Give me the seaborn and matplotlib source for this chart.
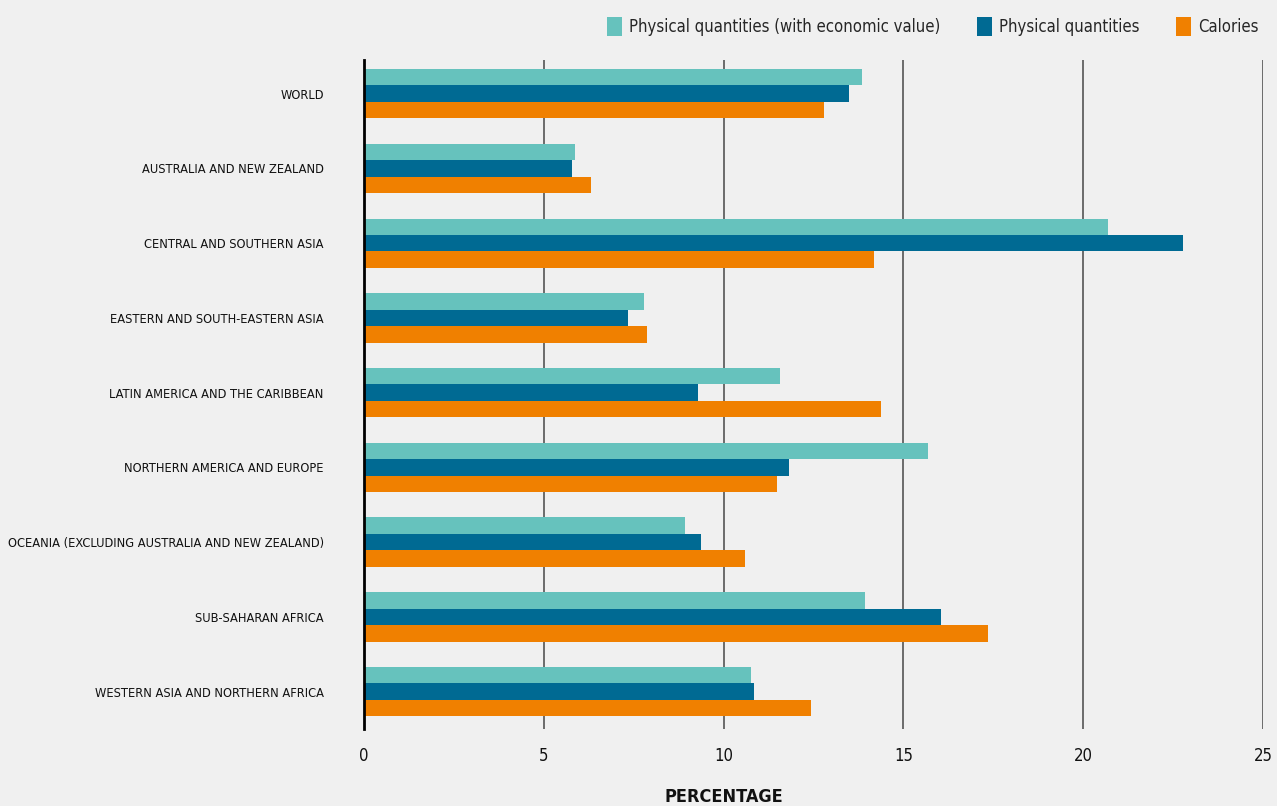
import numpy as np
import pandas as pd
import seaborn as sns
import matplotlib.pyplot as plt

# ----------------------------
# Data
# ----------------------------
regions = [
    "WORLD",
    "AUSTRALIA AND NEW ZEALAND",
    "CENTRAL AND SOUTHERN ASIA",
    "EASTERN AND SOUTH-EASTERN ASIA",
    "LATIN AMERICA AND THE CARIBBEAN",
    "NORTHERN AMERICA AND EUROPE",
    "OCEANIA (EXCLUDING AUSTRALIA AND NEW ZEALAND)",
    "SUB-SAHARAN AFRICA",
    "WESTERN ASIA AND NORTHERN AFRICA",
]
series_names = [
    "Physical quantities (with economic value)",
    "Physical quantities",
    "Calories",
]
phys_econ = [13.85, 5.87, 20.69, 7.79, 11.57, 15.68, 8.93, 13.93, 10.76]
phys_qty = [13.49, 5.78, 22.78, 7.34, 9.29, 11.82, 9.37, 16.05, 10.85]
calories = [12.79, 6.31, 14.18, 7.87, 14.38, 11.48, 10.60, 17.35, 12.43]
colors = ["#66c2bd", "#006a93", "#f08000"]
x_ticks = [0, 5, 10, 15, 20, 25]

# ----------------------------
# Long table for seaborn
# ----------------------------
df = pd.DataFrame({
    "region": regions * 3,
    "series": np.repeat(series_names, len(regions)),
    "value": phys_econ + phys_qty + calories,
})

# ----------------------------
# Plot
# ----------------------------
sns.set_theme(style="white")
plt.rcParams["font.family"] = ["DejaVu Sans"]
plt.rcParams["font.stretch"] = "condensed"
bg = "#f0f0f0"

fig = plt.figure(figsize=(12.77, 8.06), dpi=100, facecolor=bg)
ax = fig.add_axes([0.285, 0.0955, 0.704, 0.830], facecolor=bg)

sns.barplot(
    data=df, y="region", x="value", hue="series", orient="h",
    palette=colors, width=0.66, saturation=1, linewidth=0, ax=ax, legend=True,
)

ax.set_xlim(0, 25)
ax.set_ylim(len(regions) - 0.5, -0.45)
ax.set_xticks(x_ticks)
ax.set_xticklabels([str(t) for t in x_ticks], fontsize=12, color="#111111")
ax.tick_params(axis="y", length=0, pad=29, labelsize=9.2, labelcolor="#111111")
ax.tick_params(axis="x", length=0, pad=13)
ax.set_ylabel("")
ax.set_xlabel("PERCENTAGE", fontsize=13, fontweight="bold", color="#111111")
ax.xaxis.set_label_coords(0.40, -0.088)

for t in x_ticks[1:]:
    ax.axvline(t, color="#555555", lw=1.2, zorder=0)
ax.grid(False)
for side in ["top", "right", "bottom"]:
    ax.spines[side].set_visible(False)
ax.spines["left"].set_color("#000000")
ax.spines["left"].set_linewidth(2)

handles, labels = ax.get_legend_handles_labels()
ax.get_legend().remove()
fig.legend(
    handles, labels, loc="upper right", bbox_to_anchor=(0.997, 0.997),
    ncol=3, frameon=False, fontsize=12, handlelength=0.9, handleheight=1.3,
    handletextpad=0.4, columnspacing=2.2,
)

plt.savefig("out.png", dpi=100, facecolor=bg)
plt.close()
